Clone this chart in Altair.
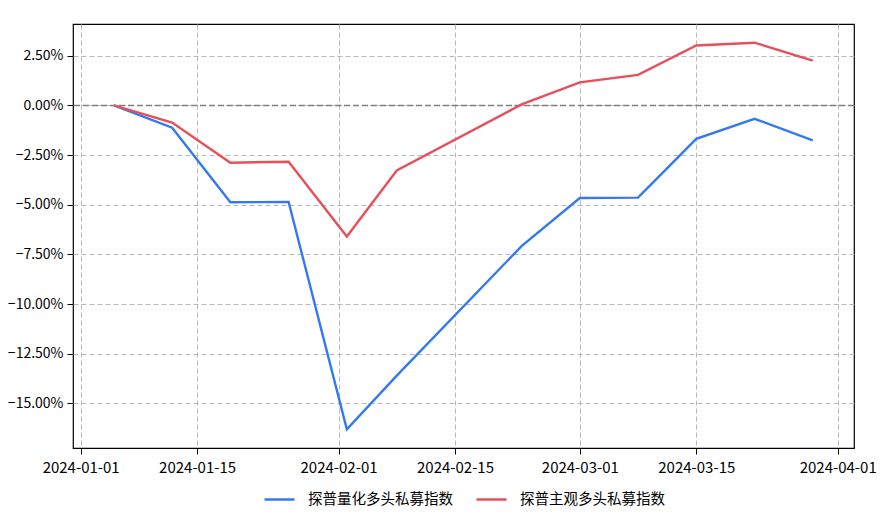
import altair as alt
import pandas as pd

dates = ["2024-01-05", "2024-01-12", "2024-01-19", "2024-01-26", "2024-02-02",
         "2024-02-08", "2024-02-23", "2024-03-01", "2024-03-08", "2024-03-15",
         "2024-03-22", "2024-03-29"]
quant = [0.0, -1.12, -4.87, -4.86, -16.3, -13.6, -7.08, -4.66, -4.64, -1.68, -0.67, -1.76]
subj = [0.0, -0.86, -2.88, -2.83, -6.6, -3.27, 0.05, 1.16, 1.54, 3.02, 3.16, 2.26]
names = ["探普量化多头私募指数", "探普主观多头私募指数"]
colors = ["#3479F0", "#E6505C"]
x_ticks = ["2024-01-01", "2024-01-15", "2024-02-01", "2024-02-15", "2024-03-01", "2024-03-15", "2024-04-01"]
y_ticks = [0.025, 0.0, -0.025, -0.05, -0.075, -0.10, -0.125, -0.15]

rows = []
for d, q, s in zip(dates, quant, subj):
    rows.append({"date": d + "T00:00:00", "value": q / 100, "series": names[0]})
    rows.append({"date": d + "T00:00:00", "value": s / 100, "series": names[1]})
df = pd.DataFrame(rows)

def dt(s, h=0):
    y, m, d = map(int, s.split("-"))
    return alt.DateTime(year=y, month=m, date=d, hours=h)

font = "Noto Sans CJK SC"

x_scale = alt.Scale(domain=[dt("2023-12-31", 2), dt("2024-04-02", 23)])
y_scale = alt.Scale(domain=[-0.1724, 0.041], nice=False, zero=False)

lines = alt.Chart(df).mark_line(strokeWidth=2.4).encode(
    x=alt.X("date:T", scale=x_scale,
            axis=alt.Axis(values=[dt(v) for v in x_ticks], format="%Y-%m-%d", title=None,
                          grid=True, gridDash=[5, 3], gridColor="#b8b8b8", gridWidth=1,
                          tickColor="black", tickSize=6, labelPadding=6,
                          domain=False, labelFont=font, labelFontSize=15, labelColor="black")),
    y=alt.Y("value:Q", scale=y_scale,
            axis=alt.Axis(values=y_ticks, format=".2%", title=None,
                          grid=True, gridDash=[5, 3], gridColor="#b8b8b8", gridWidth=1,
                          tickColor="black", tickSize=6, labelPadding=4,
                          domain=False, labelFont=font, labelFontSize=14, labelColor="black")),
    color=alt.Color("series:N", scale=alt.Scale(domain=names, range=colors),
                    legend=alt.Legend(title=None, orient="none", legendX=190, legendY=459,
                                      direction="horizontal", columns=2, columnPadding=18,
                                      symbolType="stroke", symbolSize=900, symbolStrokeWidth=2.5,
                                      labelFont=font, labelFontSize=14.5, labelColor="black",
                                      labelOffset=12)),
)

zero = alt.Chart(pd.DataFrame({"y": [0.0]})).mark_rule(
    color="#808080", strokeDash=[6, 3], strokeWidth=1.5
).encode(y=alt.Y("y:Q", scale=y_scale))

chart = alt.layer(zero, lines).properties(
    width=781, height=424,
    autosize=alt.AutoSizeParams(type="none"),
    padding={"left": 65, "top": 16, "right": 22, "bottom": 65},
).configure_view(stroke="black", strokeWidth=1.2)

chart.save("out.html", embed_options={"renderer": "svg", "actions": False})
